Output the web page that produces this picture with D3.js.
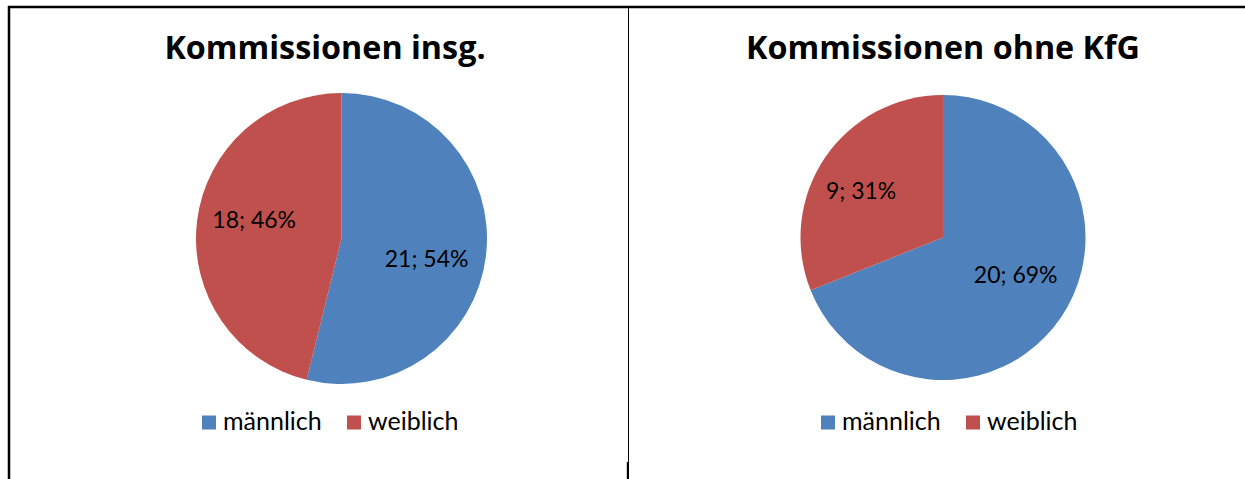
<!DOCTYPE html>
<html><head><meta charset="utf-8">
<script src="https://cdn.jsdelivr.net/npm/d3@7"></script>
<style>body{margin:0;background:#fff}svg{display:block}text{font-family:Lato,"Open Sans",sans-serif;fill:#000}</style>
</head><body><svg id="c" width="1245" height="479"></svg>
<script>
const categories = ["männlich", "weiblich"];
const titles = ["Kommissionen insg.", "Kommissionen ohne KfG"];
const valuesInsg = [21, 18];
const valuesOhneKfG = [20, 9];
const colors = ["#4F81BD", "#C0504D"];

const panels = [
  {title: titles[0], values: valuesInsg, cx: 341.5, cy: 238.5, r: 145.5, tx: 325, legendX: 202,
   labelOff: [[0.585, 0.14], [-0.60, -0.13]]},
  {title: titles[1], values: valuesOhneKfG, cx: 943, cy: 237.5, r: 142.5, tx: 943, legendX: 821,
   labelOff: [[0.51, 0.26], [-0.575, -0.33]]}
];

const svg = d3.select("#c");
// frame lines
svg.append("line").attr("x1", 8).attr("x2", 1245).attr("y1", 7).attr("y2", 7).attr("stroke", "#000").attr("stroke-width", 2.5);
svg.append("line").attr("x1", 9).attr("x2", 9).attr("y1", 6).attr("y2", 479).attr("stroke", "#000").attr("stroke-width", 2.5);
svg.append("line").attr("x1", 628.5).attr("x2", 628.5).attr("y1", 8).attr("y2", 479).attr("stroke", "#000").attr("stroke-width", 1);
svg.append("line").attr("x1", 627.8).attr("x2", 627.8).attr("y1", 462).attr("y2", 479).attr("stroke", "#000").attr("stroke-width", 2);

const color = d3.scaleOrdinal().domain(categories).range(colors);
const pie = d3.pie().sort(null).value(d => d.v);
const fmt = d3.format(".0%");

panels.forEach(p => {
  const g = svg.append("g");
  g.append("text").attr("x", p.tx).attr("y", 58.5).attr("text-anchor", "middle")
    .style("font-family", "'Open Sans',sans-serif")
    .style("font-weight", "bold").style("font-size", "32.3px").text(p.title);
  const data = p.values.map((v, i) => ({k: categories[i], v}));
  const total = d3.sum(p.values);
  const arcs = pie(data);
  const arc = d3.arc().innerRadius(0).outerRadius(p.r);
  const pg = g.append("g").attr("transform", `translate(${p.cx},${p.cy})`);
  pg.selectAll("path").data(arcs).join("path").attr("d", arc).attr("fill", d => color(d.data.k));
  pg.selectAll("text.lbl").data(arcs).join("text").attr("class", "lbl")
    .attr("x", (d, i) => p.labelOff[i][0] * p.r)
    .attr("y", (d, i) => p.labelOff[i][1] * p.r)
    .attr("text-anchor", "middle").attr("dy", "0.36em")
    .style("font-size", "23px")
    .text(d => `${d.data.v}; ${fmt(d.data.v / total)}`);
  // legend
  const lg = g.append("g").attr("transform", `translate(${p.legendX},0)`);
  const offs = [0, 145];
  categories.forEach((c, i) => {
    lg.append("rect").attr("x", offs[i]).attr("y", 415.5).attr("width", 14).attr("height", 14).attr("fill", color(c));
    lg.append("text").attr("x", offs[i] + 21).attr("y", 429.5).style("font-size", "25px").text(c);
  });
});
</script></body></html>
